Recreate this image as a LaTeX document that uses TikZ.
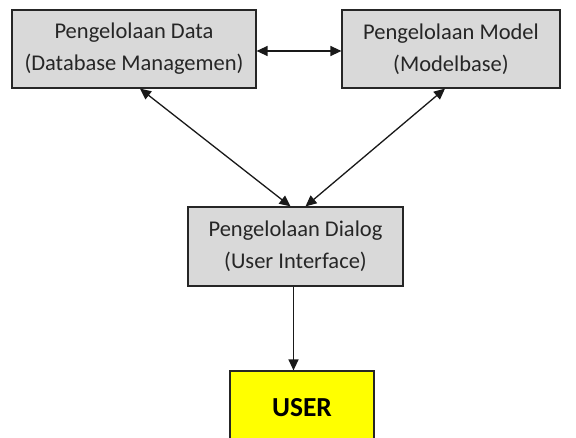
\documentclass[tikz,border=0pt]{standalone}
\usepackage{fontspec}
\setmainfont{Carlito}
\usetikzlibrary{arrows.meta,calc}
\definecolor{boxgray}{RGB}{217,217,217}
\definecolor{useryellow}{RGB}{255,255,0}
\tikzset{
  module/.style={draw=black!85, line width=1.2pt, fill=boxgray, minimum height=78pt,
    align=center, font=\fontsize{22.5}{32}\selectfont, text=black!85, inner sep=0pt},
  userbox/.style={draw=black!85, line width=1.2pt, fill=useryellow, minimum width=144pt,
    minimum height=74pt, font=\fontsize{27.5}{30}\selectfont\bfseries, inner sep=0pt},
  link/.style={line width=1.3pt, draw=black!90, {Triangle[length=11pt,width=10pt]}-{Triangle[length=11pt,width=10pt]}},
  onelink/.style={line width=1.3pt, draw=black!90, -{Triangle[length=11pt,width=10pt]}}
}
\begin{document}
\begin{tikzpicture}[x=1pt,y=1pt]
\useasboundingbox (0,0) rectangle (576,438);
\fill[white] (0,0) rectangle (576,438);
\begin{scope}
\clip (0,0) rectangle (576,438);
\node[module, minimum width=244pt] (b1) at (134,389) {Pengelolaan Data\\(Database Managemen)};
\node[module, minimum width=218pt] (b2) at (451,389) {Pengelolaan Model\\(Modelbase)};
\node[module, minimum width=215pt, minimum height=79pt] (b3) at (295.5,191.5) {Pengelolaan Dialog\\(User Interface)};
\node[userbox] (usr) at (302,30) {USER};
\end{scope}
\draw[link] (b1.east |- 0,387) -- (b2.west |- 0,387);
\draw[link] ([xshift=6pt]b1.south) -- ([xshift=-5pt]b3.north);
\draw[link] ([xshift=-6pt]b2.south) -- ([xshift=10pt]b3.north);
\draw[onelink] ([xshift=-2pt]b3.south) -- ([xshift=-2pt]b3.south |- usr.north);
\end{tikzpicture}
\end{document}
